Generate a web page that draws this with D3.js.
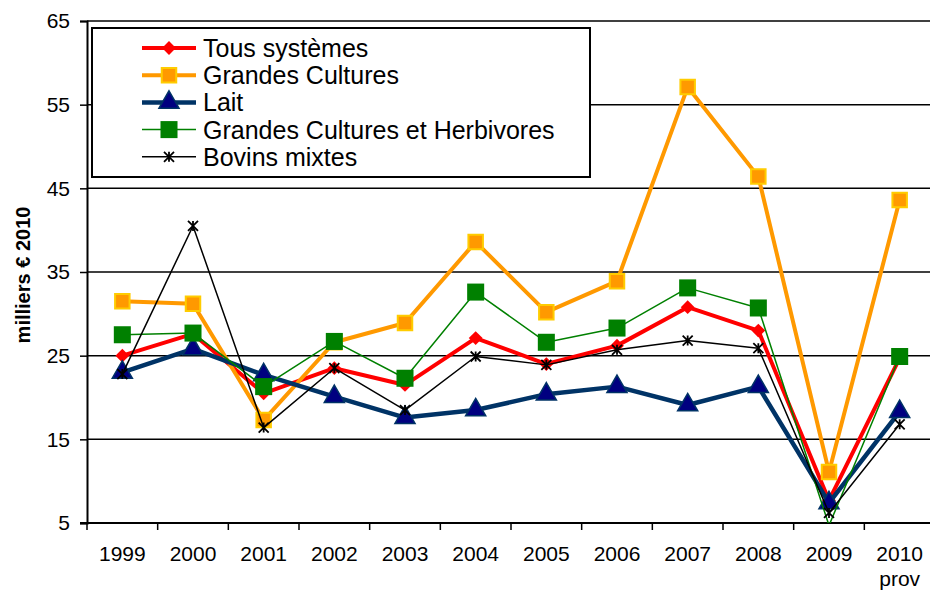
<!DOCTYPE html>
<html>
<head>
<meta charset="utf-8">
<script src="https://cdn.jsdelivr.net/npm/d3@7"></script>
<style>
  body { margin: 0; background: #fff; }
  svg { font-family: "Liberation Sans", Arial, sans-serif; }
</style>
</head>
<body>
<div id="chart"></div>
<script>
const years = ['1999', '2000', '2001', '2002', '2003', '2004', '2005', '2006', '2007', '2008', '2009', '2010'];
const yTicks = [5, 15, 25, 35, 45, 55, 65];

const tousSystemes = [25.0, 27.6, 20.5, 23.5, 21.5, 27.1, 24.0, 26.2, 30.8, 28.0, 7.7, 24.7];
const grandesCultures = [31.5, 31.2, 17.3, 26.6, 28.9, 38.6, 30.2, 33.9, 57.1, 46.4, 11.1, 43.6];
const lait = [23.0, 25.8, 22.7, 20.1, 17.6, 18.5, 20.4, 21.3, 19.1, 21.3, 7.4, 18.3];
const gcHerbivores = [27.5, 27.7, 21.3, 26.7, 22.3, 32.6, 26.6, 28.3, 33.1, 30.7, 4.7, 24.9];
const bovinsMixtes = [22.8, 40.5, 16.4, 23.5, 18.5, 24.9, 23.9, 25.7, 26.8, 25.9, 6.2, 16.8];

// Excel-style star marker: an X with a vertical bar
const symbolStar = {
    draw(context, size) {
        const r = Math.sqrt(size) / 2;
        context.moveTo(-r, -r); context.lineTo(r, r);
        context.moveTo(-r, r); context.lineTo(r, -r);
        context.moveTo(0, -r); context.lineTo(0, r);
    }
};

const series = [
    {name: 'Tous systèmes', values: tousSystemes, stroke: '#FF0000', width: 4,
        symbol: d3.symbolSquare, size: 95, rotate: 45, fill: '#FF0000', mStroke: 'none', mWidth: 0},
    {name: 'Grandes Cultures', values: grandesCultures, stroke: '#FF9900', width: 4,
        symbol: d3.symbolSquare, size: 210, rotate: 0, fill: '#FF9900', mStroke: '#FFCC00', mWidth: 2},
    {name: 'Lait', values: lait, stroke: '#003366', width: 4.5,
        symbol: d3.symbolTriangle, size: 175, rotate: 0, fill: '#000080', mStroke: '#003366', mWidth: 1.5},
    {name: 'Grandes Cultures et Herbivores', values: gcHerbivores, stroke: '#008000', width: 1.5,
        symbol: d3.symbolSquare, size: 290, rotate: 0, fill: '#008000', mStroke: 'none', mWidth: 0},
    {name: 'Bovins mixtes', values: bovinsMixtes, stroke: '#000000', width: 1.5,
        symbol: symbolStar, size: 100, rotate: 0, fill: 'none', mStroke: '#000000', mWidth: 1.8}
];

const width = 930, height = 597;
const plot = {left: 87, right: 935, top: 21, bottom: 523};

const svg = d3.select('#chart').append('svg')
    .attr('width', width)
    .attr('height', height);

const x = d3.scaleBand().domain(years).range([plot.left, plot.right]);
const y = d3.scaleLinear().domain([5, 65]).range([plot.bottom, plot.top]);
const cx = d => x(d) + x.bandwidth() / 2;

// grid lines
svg.append('g')
    .selectAll('line')
    .data(yTicks.slice(1))
    .join('line')
    .attr('x1', plot.left).attr('x2', plot.right)
    .attr('y1', d => y(d)).attr('y2', d => y(d))
    .attr('stroke', '#000').attr('stroke-width', 1.5);

// y axis
svg.append('g')
    .attr('transform', `translate(${plot.left},0)`)
    .call(d3.axisLeft(y).tickValues(yTicks).tickSize(7).tickPadding(10).tickFormat(d3.format('d')))
    .call(g => g.select('.domain').attr('stroke-width', 2))
    .call(g => g.selectAll('.tick line').attr('stroke-width', 1.5))
    .call(g => g.selectAll('.tick text').attr('font-size', 21).attr('fill', '#000')
        .attr('font-family', '"Liberation Sans", Arial, sans-serif'));

// x axis
const xAxis = svg.append('g');
xAxis.append('line')
    .attr('x1', plot.left - 7).attr('x2', plot.right)
    .attr('y1', plot.bottom).attr('y2', plot.bottom)
    .attr('stroke', '#000').attr('stroke-width', 2);
xAxis.selectAll('line.tick')
    .data(years)
    .join('line')
    .attr('class', 'tick')
    .attr('x1', d => x(d)).attr('x2', d => x(d))
    .attr('y1', plot.bottom).attr('y2', plot.bottom + 7)
    .attr('stroke', '#000').attr('stroke-width', 1.5);
xAxis.selectAll('text.year')
    .data(years)
    .join('text')
    .attr('class', 'year')
    .attr('x', d => cx(d))
    .attr('y', 561)
    .attr('text-anchor', 'middle')
    .attr('font-size', 21)
    .text(d => d);
xAxis.append('text')
    .attr('x', cx('2010'))
    .attr('y', 586)
    .attr('text-anchor', 'middle')
    .attr('font-size', 21)
    .text('prov');

// y axis title
svg.append('text')
    .attr('transform', 'translate(30,275) rotate(-90)')
    .attr('text-anchor', 'middle')
    .attr('font-size', 20)
    .attr('font-weight', 'bold')
    .text('milliers € 2010');

// clip for lines
svg.append('clipPath').attr('id', 'plot-clip')
    .append('rect')
    .attr('x', plot.left).attr('y', plot.top - 10)
    .attr('width', plot.right - plot.left).attr('height', plot.bottom - plot.top + 10);

const line = d3.line().x((d, i) => cx(years[i])).y(d => y(d));

function marker(s)
{
    return d3.symbol().type(s.symbol).size(s.size)();
}

series.forEach(s => {
    const g = svg.append('g');
    g.append('path')
        .datum(s.values)
        .attr('clip-path', 'url(#plot-clip)')
        .attr('fill', 'none')
        .attr('stroke', s.stroke)
        .attr('stroke-width', s.width)
        .attr('stroke-linejoin', 'round')
        .attr('d', line);
    g.selectAll('path.m')
        .data(s.values.map((v, i) => ({v, i})).filter(d => d.v >= 5))
        .join('path')
        .attr('class', 'm')
        .attr('transform', d => `translate(${cx(years[d.i])},${y(d.v)}) rotate(${s.rotate})`)
        .attr('d', marker(s))
        .attr('fill', s.fill)
        .attr('stroke', s.mStroke)
        .attr('stroke-width', s.mWidth);
});

// legend
const legend = svg.append('g');
legend.append('rect')
    .attr('x', 92).attr('y', 28)
    .attr('width', 498).attr('height', 149)
    .attr('fill', '#fff')
    .attr('stroke', '#000')
    .attr('stroke-width', 2);

const rows = legend.selectAll('g.row')
    .data(series)
    .join('g')
    .attr('class', 'row')
    .attr('transform', (d, i) => `translate(0,${48 + i * 27.2})`);
rows.append('line')
    .attr('x1', 142).attr('x2', 196)
    .attr('stroke', d => d.stroke)
    .attr('stroke-width', d => d.width);
rows.append('path')
    .attr('transform', d => `translate(169,0) rotate(${d.rotate})`)
    .attr('d', d => marker(d))
    .attr('fill', d => d.fill)
    .attr('stroke', d => d.mStroke)
    .attr('stroke-width', d => d.mWidth);
rows.append('text')
    .attr('x', 203)
    .attr('dy', '0.36em')
    .attr('font-size', 25)
    .text(d => d.name);
</script>
</body>
</html>
